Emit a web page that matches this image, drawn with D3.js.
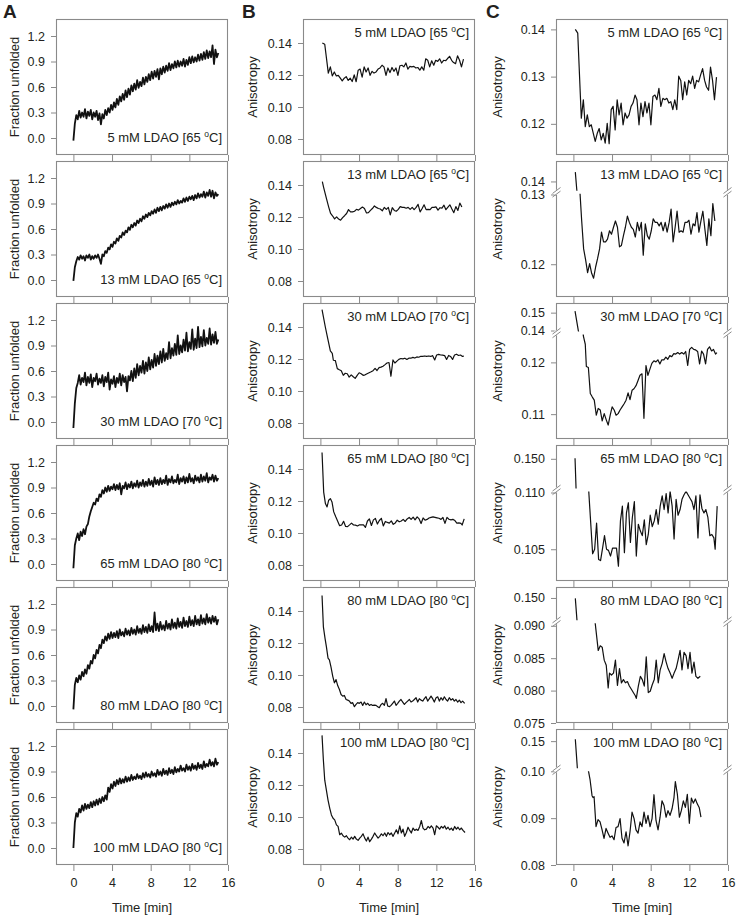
<!DOCTYPE html>
<html><head><meta charset="utf-8">
<script src="https://cdn.jsdelivr.net/npm/d3@7"></script>
<style>body{margin:0;background:#fff}svg text{font-family:"Liberation Sans",Arial,sans-serif}</style>
</head><body><svg id="c" width="737" height="918"></svg>
<script>
// ---------- labels ----------
const concs = ["5","13","30","65","80","100"];
const temps = ["65","65","70","80","80","80"];
const xTickValues = [0,4,8,12,16];
const xDomain = [-1.8,16];
const fracDomain = [-0.2,1.4];
const fracTicks = [0.0,0.3,0.6,0.9,1.2];
const anisoDomainB = [0.07,0.155];
const anisoTicksB = [0.08,0.10,0.12,0.14];

// ---------- column A: fraction unfolded (sampled every fracStep min from t=0) ----------
const fracStep = 0.15;
const fraction_5mM = [-0.03,0.17,0.27,0.22,0.32,0.24,0.30,0.25,0.34,0.23,
0.31,0.26,0.33,0.22,0.30,0.25,0.32,0.21,0.29,0.16,
0.28,0.23,0.33,0.27,0.35,0.30,0.39,0.33,0.42,0.36,
0.46,0.39,0.49,0.43,0.52,0.45,0.56,0.48,0.58,0.51,
0.62,0.55,0.64,0.57,0.68,0.59,0.66,0.61,0.71,0.63,
0.72,0.66,0.75,0.68,0.78,0.70,0.79,0.72,0.81,0.69,
0.82,0.75,0.84,0.77,0.85,0.79,0.88,0.80,0.87,0.82,
0.90,0.83,0.91,0.84,0.90,0.85,0.93,0.84,0.92,0.86,
0.95,0.88,0.96,0.89,0.95,0.90,0.98,0.91,0.99,0.92,
1.01,0.93,1.03,0.94,1.02,0.95,1.09,0.87,1.04,0.95,
1.00];
const fraction_13mM = [-0.01,0.15,0.22,0.27,0.24,0.29,0.25,0.28,0.23,0.29,
0.26,0.30,0.24,0.28,0.25,0.29,0.26,0.30,0.25,0.19,
0.30,0.28,0.34,0.32,0.38,0.36,0.42,0.39,0.45,0.43,
0.49,0.46,0.52,0.50,0.56,0.53,0.58,0.56,0.62,0.59,
0.65,0.62,0.67,0.64,0.70,0.67,0.72,0.69,0.75,0.72,
0.77,0.74,0.79,0.76,0.81,0.78,0.83,0.79,0.85,0.81,
0.86,0.82,0.87,0.84,0.89,0.85,0.90,0.86,0.91,0.88,
0.92,0.89,0.94,0.90,0.93,0.91,0.96,0.92,0.97,0.93,
0.98,0.95,0.99,0.94,1.00,0.96,1.02,0.97,1.01,0.98,
1.04,0.97,1.03,0.99,1.06,0.98,1.05,0.96,1.03,0.99,
1.01];
const fraction_30mM = [-0.07,0.22,0.40,0.46,0.55,0.44,0.52,0.47,0.58,0.43,
0.53,0.46,0.56,0.41,0.52,0.48,0.57,0.44,0.51,0.46,
0.55,0.42,0.53,0.47,0.58,0.38,0.50,0.45,0.54,0.41,
0.52,0.46,0.57,0.43,0.55,0.47,0.53,0.36,0.54,0.49,
0.60,0.48,0.63,0.52,0.68,0.55,0.66,0.58,0.72,0.57,
0.70,0.60,0.76,0.62,0.73,0.64,0.80,0.66,0.78,0.68,
0.83,0.70,0.86,0.72,0.81,0.74,0.94,0.75,0.87,0.78,
0.92,0.79,1.02,0.80,0.90,0.82,0.97,0.84,1.05,0.83,
0.94,0.86,1.09,0.85,0.98,0.87,1.12,0.88,1.00,0.89,
1.08,0.90,0.99,0.92,1.10,0.91,1.03,0.93,1.06,0.92,
0.97];
const fraction_65mM = [-0.05,0.22,0.30,0.36,0.28,0.38,0.33,0.41,0.35,0.44,
0.47,0.56,0.62,0.67,0.72,0.70,0.77,0.74,0.82,0.79,
0.87,0.83,0.90,0.85,0.92,0.86,0.91,0.88,0.94,0.87,
0.93,0.88,0.95,0.82,0.92,0.89,0.96,0.88,0.94,0.90,
0.97,0.89,0.95,0.91,0.98,0.90,0.96,0.92,0.99,0.91,
0.97,0.92,1.00,0.93,0.98,0.91,1.02,0.94,0.99,0.93,
1.01,0.94,0.99,0.95,1.04,0.93,1.00,0.96,1.03,0.95,
0.99,0.96,1.05,0.94,1.01,0.97,1.03,0.95,1.02,0.96,
1.06,0.97,1.01,0.95,1.04,0.98,1.02,0.96,1.05,0.97,
1.03,0.98,1.07,0.96,1.02,0.99,1.05,0.97,1.04,0.98,
1.01];
const fraction_80mM = [-0.04,0.25,0.33,0.28,0.36,0.31,0.40,0.35,0.43,0.38,
0.48,0.44,0.53,0.50,0.60,0.56,0.66,0.62,0.72,0.68,
0.78,0.74,0.82,0.77,0.85,0.79,0.87,0.80,0.86,0.81,
0.88,0.80,0.90,0.83,0.87,0.82,0.91,0.84,0.89,0.83,
0.92,0.85,0.90,0.84,0.94,0.86,0.91,0.85,0.95,0.87,
0.93,0.86,0.96,0.88,0.94,0.87,1.10,0.89,0.97,0.88,
0.99,0.90,0.95,0.89,1.00,0.91,0.97,0.90,1.02,0.92,
0.98,0.91,1.03,0.93,0.99,0.92,1.04,0.94,1.00,0.93,
1.05,0.95,1.01,0.94,1.06,0.96,1.02,0.95,1.07,0.97,
1.03,0.96,1.08,0.98,1.04,0.97,1.06,0.99,1.05,0.96,
1.02];
const fraction_100mM = [0.00,0.30,0.41,0.37,0.46,0.42,0.50,0.44,0.52,0.46,
0.51,0.47,0.54,0.48,0.55,0.50,0.57,0.51,0.58,0.53,
0.60,0.55,0.62,0.57,0.71,0.66,0.75,0.70,0.78,0.73,
0.80,0.75,0.82,0.76,0.81,0.77,0.84,0.78,0.83,0.79,
0.86,0.80,0.84,0.81,0.87,0.82,0.85,0.81,0.88,0.83,
0.89,0.84,0.87,0.83,0.90,0.85,0.88,0.84,0.92,0.86,
0.90,0.85,0.93,0.87,0.91,0.86,0.94,0.88,0.92,0.87,
0.95,0.89,0.93,0.90,0.97,0.91,0.94,0.90,0.98,0.92,
0.96,0.91,0.99,0.93,0.97,0.92,1.00,0.94,0.98,0.93,
1.02,0.95,0.99,0.96,1.04,0.97,1.01,0.96,1.05,0.98,
1.01];

// ---------- columns B & C: anisotropy [time (min), anisotropy] ----------
const aniso_5mM = [[0.2,0.140],[0.45,0.1392],[0.82,0.1212],[1.03,0.1251],[1.23,0.1194],[1.44,0.1219],[1.65,0.1194],[1.85,0.1198],[2.06,0.118],[2.26,0.1163],[2.47,0.118],[2.67,0.119],[2.88,0.1166],[3.09,0.118],[3.29,0.1159],[3.5,0.1201],[3.7,0.1158],[3.91,0.123],[4.11,0.1237],[4.32,0.1187],[4.53,0.1251],[4.73,0.1219],[4.94,0.1244],[5.14,0.1198],[5.35,0.1223],[5.55,0.1212],[5.76,0.1219],[5.97,0.1237],[6.17,0.1244],[6.38,0.1261],[6.58,0.1251],[6.79,0.1198],[6.99,0.1244],[7.2,0.1215],[7.41,0.1247],[7.61,0.1223],[7.82,0.1244],[8.02,0.1198],[8.23,0.1258],[8.44,0.1261],[8.64,0.1251],[8.85,0.1275],[9.05,0.1237],[9.26,0.1254],[9.46,0.1251],[9.67,0.1254],[9.88,0.1244],[10.08,0.1247],[10.29,0.123],[10.49,0.1251],[10.7,0.123],[10.9,0.1301],[11.11,0.1292],[11.31,0.1251],[11.52,0.1289],[11.73,0.1261],[11.93,0.1292],[12.14,0.1285],[12.34,0.1301],[12.55,0.1275],[12.75,0.1292],[12.96,0.1289],[13.16,0.1303],[13.37,0.1317],[13.58,0.1292],[13.78,0.1278],[13.99,0.1271],[14.19,0.132],[14.4,0.1292],[14.6,0.1251],[14.81,0.1299]];
const aniso_13mM = [[0.2,0.1421],[0.34,0.1384],[0.65,0.131],[0.86,0.1262],[1.06,0.1222],[1.27,0.1206],[1.47,0.1188],[1.68,0.1201],[1.89,0.1187],[2.09,0.118],[2.3,0.1196],[2.5,0.1208],[2.71,0.1222],[2.91,0.1246],[3.12,0.1232],[3.33,0.1232],[3.53,0.1236],[3.74,0.1248],[3.94,0.1243],[4.15,0.1253],[4.35,0.1262],[4.56,0.1253],[4.77,0.1225],[4.97,0.1227],[5.18,0.1241],[5.38,0.1253],[5.59,0.1269],[5.79,0.126],[6.0,0.1253],[6.2,0.125],[6.41,0.1239],[6.62,0.126],[6.82,0.1248],[7.03,0.126],[7.23,0.1213],[7.44,0.1258],[7.65,0.1241],[7.85,0.1236],[8.06,0.1248],[8.26,0.1265],[8.47,0.126],[8.67,0.126],[8.88,0.1255],[9.08,0.126],[9.29,0.1248],[9.5,0.126],[9.7,0.1246],[9.91,0.126],[10.11,0.1279],[10.32,0.1232],[10.53,0.1253],[10.73,0.1276],[10.94,0.1246],[11.14,0.1248],[11.35,0.1246],[11.55,0.126],[11.76,0.126],[11.96,0.1263],[12.17,0.1243],[12.38,0.1258],[12.58,0.1255],[12.79,0.1274],[12.99,0.1246],[13.2,0.1262],[13.4,0.1276],[13.61,0.125],[13.81,0.1227],[14.02,0.1265],[14.23,0.1241],[14.43,0.1287],[14.64,0.1262]];
const aniso_30mM = [[0.17,0.1509],[0.51,0.140],[0.75,0.133],[1.03,0.1251],[1.23,0.1235],[1.34,0.1192],[1.55,0.119],[1.75,0.114],[1.96,0.1133],[2.16,0.1127],[2.37,0.1098],[2.57,0.1111],[2.78,0.1108],[2.98,0.1087],[3.19,0.1101],[3.4,0.1089],[3.6,0.1079],[3.81,0.1098],[4.01,0.1114],[4.22,0.1108],[4.42,0.1098],[4.63,0.1101],[4.83,0.1108],[5.04,0.1114],[5.25,0.112],[5.45,0.1127],[5.66,0.1141],[5.86,0.1128],[6.07,0.1146],[6.27,0.1149],[6.48,0.1155],[6.69,0.1165],[6.89,0.1175],[7.1,0.1178],[7.3,0.1092],[7.51,0.1194],[7.71,0.1175],[7.92,0.1187],[8.12,0.1198],[8.33,0.1203],[8.54,0.1201],[8.74,0.1205],[8.95,0.1197],[9.15,0.1205],[9.36,0.1205],[9.57,0.121],[9.77,0.1206],[9.98,0.1213],[10.18,0.1211],[10.39,0.1217],[10.59,0.1216],[10.8,0.1219],[11.0,0.1216],[11.21,0.1219],[11.42,0.1216],[11.62,0.1221],[11.83,0.1194],[12.03,0.1225],[12.24,0.1229],[12.45,0.1225],[12.65,0.1224],[12.86,0.1221],[13.06,0.1197],[13.27,0.1222],[13.47,0.1216],[13.68,0.1197],[13.88,0.1225],[14.09,0.123],[14.3,0.1222],[14.5,0.1225],[14.71,0.1216],[14.85,0.1219]];
const aniso_65mM = [[0.17,0.1503],[0.34,0.1256],[0.52,0.1184],[0.69,0.1163],[0.86,0.1205],[1.03,0.1215],[1.2,0.1194],[1.38,0.1132],[1.59,0.1101],[1.99,0.1046],[2.2,0.105],[2.4,0.1073],[2.61,0.1041],[2.81,0.104],[3.02,0.1051],[3.22,0.1062],[3.43,0.105],[3.63,0.1049],[3.84,0.1044],[4.05,0.1051],[4.25,0.1051],[4.46,0.1051],[4.66,0.1035],[4.87,0.1075],[5.07,0.1088],[5.28,0.1047],[5.49,0.1082],[5.69,0.1091],[5.9,0.1056],[6.1,0.1078],[6.31,0.1092],[6.51,0.1044],[6.72,0.1072],[6.93,0.1066],[7.13,0.1062],[7.34,0.1076],[7.54,0.1054],[7.75,0.1063],[7.95,0.108],[8.16,0.107],[8.37,0.1075],[8.57,0.1085],[8.78,0.1072],[8.98,0.1088],[9.19,0.1097],[9.39,0.1085],[9.6,0.1099],[9.8,0.1082],[10.01,0.1101],[10.22,0.1088],[10.42,0.1059],[10.63,0.1094],[10.83,0.108],[11.04,0.1085],[11.24,0.1094],[11.45,0.1098],[11.66,0.1101],[11.86,0.1098],[12.07,0.1095],[12.27,0.1092],[12.48,0.1085],[12.68,0.1097],[12.89,0.106],[13.1,0.1098],[13.3,0.1086],[13.51,0.1082],[13.71,0.1085],[13.92,0.1078],[14.12,0.1062],[14.33,0.1063],[14.54,0.106],[14.67,0.105],[14.88,0.1088]];
const anisoB_80mM = [[0.17,0.1497],[0.31,0.1301],[0.48,0.1229],[0.62,0.1177],[0.79,0.1105],[0.93,0.1095],[1.1,0.1049],[1.28,0.0992],[1.45,0.0951],[1.62,0.0971],[1.79,0.0934],[1.97,0.0909],[2.14,0.0878],[2.31,0.0868],[2.48,0.0872],[2.66,0.0847],[2.83,0.0843],[3.0,0.0837],[3.17,0.0823],[3.34,0.0827],[3.52,0.0802],[3.69,0.0816],[3.86,0.0827],[4.03,0.0823],[4.21,0.0831],[4.38,0.081],[4.55,0.0831],[4.72,0.0814],[4.9,0.0823],[5.07,0.081],[5.24,0.0816],[5.41,0.081],[5.59,0.0812],[5.76,0.081],[5.93,0.0802],[6.1,0.0796],[6.28,0.0816],[6.45,0.0823],[6.62,0.081],[6.79,0.0852],[6.97,0.0806],[7.14,0.0802],[7.31,0.081],[7.48,0.0823],[7.66,0.0837],[7.83,0.081],[8.0,0.0823],[8.17,0.0837],[8.34,0.0847],[8.52,0.0831],[8.69,0.0816],[8.86,0.0827],[9.03,0.0837],[9.21,0.0847],[9.38,0.0831],[9.55,0.0837],[9.72,0.0847],[9.9,0.0858],[10.07,0.0831],[10.24,0.0852],[10.41,0.0843],[10.59,0.0837],[10.76,0.0852],[10.93,0.0864],[11.1,0.0837],[11.28,0.0852],[11.45,0.0868],[11.62,0.0852],[11.79,0.0831],[11.97,0.0858],[12.14,0.0864],[12.31,0.0837],[12.48,0.0858],[12.66,0.0843],[12.83,0.0864],[13.0,0.0847],[13.17,0.0837],[13.34,0.0858],[13.52,0.0843],[13.69,0.0852],[13.86,0.0837],[14.03,0.0847],[14.21,0.0831],[14.38,0.0843],[14.55,0.0827],[14.72,0.0837],[14.93,0.0823]];
const anisoB_100mM = [[0.17,0.151],[0.31,0.1355],[0.45,0.123],[0.62,0.1168],[0.79,0.1106],[0.97,0.1054],[1.14,0.1013],[1.31,0.0992],[1.48,0.0982],[1.66,0.0951],[1.83,0.0941],[2.0,0.0889],[2.17,0.0899],[2.34,0.0883],[2.52,0.0874],[2.69,0.0883],[2.86,0.0868],[3.03,0.0858],[3.21,0.0874],[3.38,0.0862],[3.55,0.0879],[3.72,0.0862],[3.9,0.0854],[4.07,0.0868],[4.24,0.0879],[4.41,0.0895],[4.59,0.0868],[4.76,0.085],[4.93,0.0874],[5.1,0.0845],[5.28,0.0862],[5.45,0.0879],[5.62,0.09],[5.79,0.0883],[5.97,0.0868],[6.14,0.0879],[6.31,0.0895],[6.48,0.0883],[6.66,0.09],[6.83,0.0879],[7.0,0.0903],[7.17,0.0889],[7.34,0.09],[7.52,0.0879],[7.69,0.09],[7.86,0.092],[8.03,0.0895],[8.21,0.0945],[8.38,0.09],[8.55,0.0924],[8.72,0.0879],[8.9,0.0903],[9.07,0.0936],[9.24,0.0916],[9.41,0.09],[9.59,0.0931],[9.76,0.0916],[9.93,0.0924],[10.1,0.0916],[10.28,0.0941],[10.45,0.0978],[10.62,0.0931],[10.79,0.092],[10.97,0.0924],[11.14,0.0941],[11.31,0.0931],[11.48,0.0945],[11.66,0.0931],[11.83,0.0889],[12.0,0.0945],[12.17,0.0936],[12.34,0.0924],[12.52,0.0941],[12.69,0.0931],[12.86,0.0945],[13.03,0.0924],[13.21,0.0936],[13.38,0.092],[13.55,0.0931],[13.72,0.0916],[13.9,0.0941],[14.07,0.0924],[14.24,0.0936],[14.41,0.092],[14.59,0.0931],[14.76,0.0916],[14.97,0.0903]];
const anisoC_80mM = [[0.2,0.1497],[0.45,0.128],[0.8,0.115],[1.3,0.100],[1.8,0.095],[2.1,0.0925],[2.57,0.0862],[2.78,0.0869],[2.98,0.0867],[3.19,0.0847],[3.4,0.0839],[3.6,0.0804],[3.74,0.0827],[3.94,0.0824],[4.15,0.0827],[4.35,0.0847],[4.56,0.0808],[4.77,0.0834],[4.97,0.0812],[5.18,0.0817],[5.38,0.0812],[5.59,0.0814],[5.79,0.0807],[6.0,0.0802],[6.2,0.0797],[6.41,0.0792],[6.51,0.0788],[6.72,0.0807],[6.93,0.0822],[7.13,0.0817],[7.34,0.0807],[7.54,0.0852],[7.75,0.0797],[7.95,0.0799],[8.16,0.0809],[8.37,0.0817],[8.57,0.0847],[8.78,0.0812],[8.98,0.0832],[9.19,0.0842],[9.39,0.0857],[9.6,0.0844],[9.8,0.0834],[10.01,0.0827],[10.22,0.0819],[10.42,0.0827],[10.63,0.0834],[10.83,0.0847],[11.04,0.0862],[11.24,0.0832],[11.45,0.0859],[11.66,0.0854],[11.86,0.0834],[12.07,0.0859],[12.27,0.0827],[12.48,0.0844],[12.68,0.0822],[12.89,0.0819],[13.13,0.0822]];
const anisoC_100mM = [[0.2,0.151],[0.45,0.132],[0.8,0.112],[1.2,0.104],[1.72,0.0983],[1.93,0.0948],[2.03,0.0944],[2.14,0.0946],[2.34,0.0882],[2.55,0.0897],[2.76,0.0892],[2.97,0.0875],[3.17,0.0857],[3.38,0.0878],[3.59,0.0868],[3.79,0.0859],[4.0,0.0862],[4.21,0.0854],[4.41,0.088],[4.62,0.0882],[4.83,0.0899],[5.03,0.0857],[5.24,0.0847],[5.45,0.0871],[5.66,0.0841],[5.86,0.0871],[6.07,0.0913],[6.28,0.0899],[6.48,0.0875],[6.69,0.0868],[6.9,0.0892],[7.1,0.0882],[7.31,0.0913],[7.52,0.0889],[7.72,0.0906],[7.93,0.0882],[8.14,0.0899],[8.34,0.095],[8.55,0.0895],[8.76,0.0875],[8.97,0.0902],[9.17,0.0937],[9.38,0.0927],[9.59,0.0902],[9.79,0.0916],[10.0,0.0906],[10.21,0.092],[10.41,0.0944],[10.55,0.0978],[10.76,0.0951],[10.97,0.0902],[11.17,0.0916],[11.38,0.0937],[11.59,0.0923],[11.79,0.0951],[12.0,0.0889],[12.21,0.0943],[12.41,0.0932],[12.62,0.0941],[12.83,0.093],[13.03,0.0922],[13.2,0.0902]];

// ---------- column C broken-axis domains and ticks ----------
const cUpperDomains = [null,[0.1379,0.1446],[0.1395,0.1554],[0.135,0.157],[0.135,0.1574],[0.135,0.1567]];
const cLowerDomains = [[0.1134,0.1422],[0.1153,0.1301],[0.1052,0.1254],[0.1022,0.1101],[0.075,0.0904],[0.08,0.10]];
const cUpperTicks = [[],[0.14],[0.14,0.15],[0.150],[0.150],[0.15]];
const cLowerTicks = [[0.12,0.13,0.14],[0.12,0.13],[0.11,0.12],[0.105,0.110],[0.075,0.080,0.085,0.090],[0.08,0.09,0.10]];
const cTickDecimals = [2,2,2,3,3,2];

const fractionSeries = [fraction_5mM,fraction_13mM,fraction_30mM,fraction_65mM,fraction_80mM,fraction_100mM];
const anisoBSeries = [aniso_5mM,aniso_13mM,aniso_30mM,aniso_65mM,anisoB_80mM,anisoB_100mM];
const anisoCSeries = [aniso_5mM,aniso_13mM,aniso_30mM,aniso_65mM,anisoC_80mM,anisoC_100mM];

// ---------- layout ----------
const colLeft = [56,303,556];
const panelW = 172, panelH = 136, top0 = 19, rowStep = 142;
const cBreakFrac = [0,0.23,0.22,0.33,0.255,0.30];
const frameColor = "#8a8a8a", textColor = "#231f20", lineColor = "#111";
const tickFont = 12.5;

const svg = d3.select("#c");
const panelTop = r => top0 + r*rowStep;
let clipId = 0;

function styleAxis(g){
  g.select(".domain").remove();
  g.selectAll(".tick line").attr("stroke",frameColor);
  g.selectAll(".tick text").attr("fill",textColor).attr("font-size",tickFont)
    .attr("font-family",'"Liberation Sans",Arial,sans-serif');
}
function makeX(col){ return d3.scaleLinear().domain(xDomain).range([colLeft[col],colLeft[col]+panelW]); }
function clip(x,y,w,h){
  const id="clip"+(clipId++);
  svg.append("clipPath").attr("id",id).append("rect").attr("x",x).attr("y",y).attr("width",w).attr("height",h);
  return "url(#"+id+")";
}
function xAxis(col,r,x){
  const last = r===5;
  const g = svg.append("g").attr("transform",`translate(0,${panelTop(r)+panelH})`)
    .call(d3.axisBottom(x).tickValues(xTickValues).tickSize(6).tickPadding(7)
      .tickFormat(last? d3.format("d") : ()=>""));
  styleAxis(g);
}
function frame(col,r){
  svg.append("rect").attr("x",colLeft[col]+0.5).attr("y",panelTop(r)+0.5)
    .attr("width",panelW-1).attr("height",panelH-1)
    .attr("fill","none").attr("stroke",frameColor).attr("stroke-width",1.1);
}
function condLabel(col,r,anchorBottom){
  const xr = colLeft[col]+panelW-6;
  const yb = anchorBottom ? panelTop(r)+123 : panelTop(r)+18;
  const t = svg.append("text").attr("x",xr).attr("y",yb).attr("text-anchor","end")
    .attr("font-size",13).attr("fill",textColor);
  t.append("tspan").text(`${concs[r]} mM LDAO [${temps[r]} `);
  t.append("tspan").attr("dy",-5).attr("font-size",8.5).text("o");
  t.append("tspan").attr("dy",5).text("C]");
}
function yTitle(x,r,txt){
  const cy = panelTop(r)+panelH/2;
  svg.append("text").attr("transform",`translate(${x},${cy}) rotate(-90)`)
    .attr("text-anchor","middle").attr("dy","0.35em").attr("font-size",13).attr("fill",textColor).text(txt);
}

// ---------- column A ----------
fractionSeries.forEach((vals,r)=>{
  const x = makeX(0), top = panelTop(r);
  const y = d3.scaleLinear().domain(fracDomain).range([top+panelH,top]);
  const line = d3.line().x((d,i)=>x(i*fracStep)).y(d=>y(d));
  svg.append("path").datum(vals).attr("d",line).attr("fill","none")
    .attr("stroke",lineColor).attr("stroke-width",1.8).attr("stroke-linejoin","round")
    .attr("clip-path",clip(colLeft[0],top,panelW,panelH));
  const ga = svg.append("g").attr("transform",`translate(${colLeft[0]},0)`)
    .call(d3.axisLeft(y).tickValues(fracTicks).tickSize(5).tickPadding(6).tickFormat(d3.format(".1f")));
  styleAxis(ga);
  xAxis(0,r,x); frame(0,r); condLabel(0,r,true);
  yTitle(14,r,"Fraction unfolded");
});

// ---------- column B ----------
anisoBSeries.forEach((pts,r)=>{
  const x = makeX(1), top = panelTop(r);
  const y = d3.scaleLinear().domain(anisoDomainB).range([top+panelH,top]);
  const line = d3.line().x(d=>x(d[0])).y(d=>y(d[1]));
  svg.append("path").datum(pts).attr("d",line).attr("fill","none")
    .attr("stroke",lineColor).attr("stroke-width",1.2).attr("stroke-linejoin","round")
    .attr("clip-path",clip(colLeft[1],top,panelW,panelH));
  const ga = svg.append("g").attr("transform",`translate(${colLeft[1]},0)`)
    .call(d3.axisLeft(y).tickValues(anisoTicksB).tickSize(5).tickPadding(6).tickFormat(d3.format(".2f")));
  styleAxis(ga);
  xAxis(1,r,x); frame(1,r); condLabel(1,r,false);
  yTitle(252,r,"Anisotropy");
});

// ---------- column C (broken axes) ----------
anisoCSeries.forEach((pts,r)=>{
  const x = makeX(2), top = panelTop(r), left = colLeft[2], bottom = top+panelH;
  const bf = cBreakFrac[r];
  const fmt = d3.format("."+cTickDecimals[r]+"f");
  const gap = bf>0 ? 1.5 : 0;
  const bY = top + bf*panelH;
  const lowTop = bf>0 ? bY+gap : top;
  const yLow = d3.scaleLinear().domain(cLowerDomains[r]).range([bottom,lowTop]);
  const parts = [{y:yLow, y0:lowTop, y1:bottom, ticks:cLowerTicks[r]}];
  if(bf>0){
    const yUp = d3.scaleLinear().domain(cUpperDomains[r]).range([bY-gap,top]);
    parts.push({y:yUp, y0:top, y1:bY-gap, ticks:cUpperTicks[r]});
  }
  parts.forEach(p=>{
    const line = d3.line().x(d=>x(d[0])).y(d=>p.y(d[1]));
    svg.append("path").datum(pts).attr("d",line).attr("fill","none")
      .attr("stroke",lineColor).attr("stroke-width",1.2).attr("stroke-linejoin","round")
      .attr("clip-path",clip(left,p.y0,panelW,p.y1-p.y0));
    const ga = svg.append("g").attr("transform",`translate(${left},0)`)
      .call(d3.axisLeft(p.y).tickValues(p.ticks).tickSize(5).tickPadding(6).tickFormat(fmt));
    styleAxis(ga);
  });
  xAxis(2,r,x); frame(2,r);
  if(bf>0){
    [left+0.5, left+panelW-0.5].forEach(xe=>{
      svg.append("rect").attr("x",xe-2).attr("y",bY-2.5).attr("width",4).attr("height",5).attr("fill","#fff");
      [-1.8,1.8].forEach(o=>{
        svg.append("line").attr("x1",xe-4).attr("y1",bY+o+3).attr("x2",xe+4).attr("y2",bY+o-3)
          .attr("stroke",frameColor).attr("stroke-width",1);
      });
    });
  }
  condLabel(2,r,false);
  yTitle(497,r,"Anisotropy");
});

// ---------- x titles & panel letters ----------
[0,1,2].forEach(c=>{
  svg.append("text").attr("x",colLeft[c]+panelW/2).attr("y",912)
    .attr("text-anchor","middle").attr("font-size",13).attr("fill",textColor).text("Time [min]");
});
[["A",3],["B",242],["C",486]].forEach(([l,x])=>{
  svg.append("text").attr("x",x).attr("y",18).attr("font-size",19).attr("font-weight","bold")
    .attr("fill",textColor).text(l);
});
</script></body></html>
